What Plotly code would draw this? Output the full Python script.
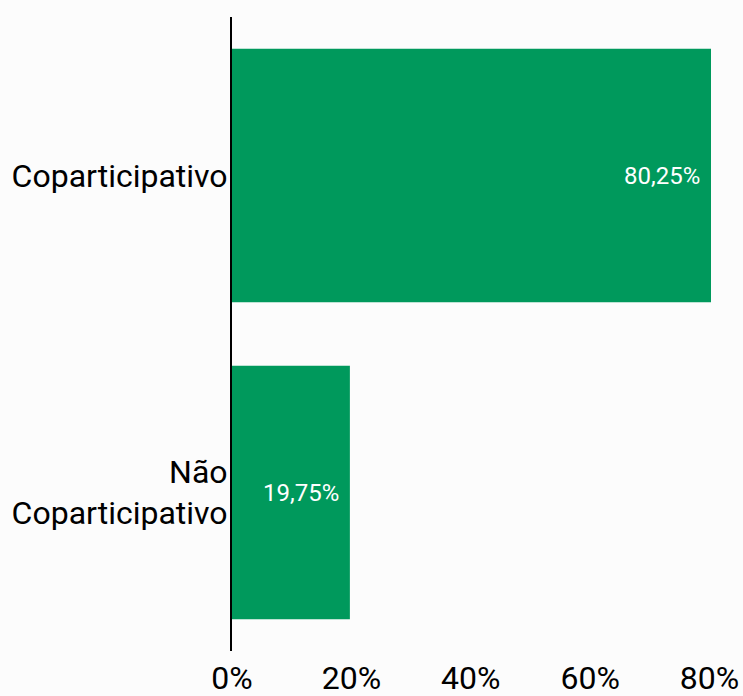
import plotly.graph_objects as go

categories = ["Coparticipativo", "Não<br>Coparticipativo"]
values = [80.25, 19.75]
labels = ["80,25%", "19,75%"]
tick_vals = [0, 20, 40, 60, 80]
tick_text = ["0%", "20%", "40%", "60%", "80%"]

fig = go.Figure()
fig.add_trace(go.Bar(
    y=categories, x=values, orientation="h",
    marker=dict(color="#00995C", line=dict(width=0)),
    width=0.8, hoverinfo="skip",
))
for c, v, t in zip(categories, values, labels):
    fig.add_annotation(x=v, y=c, text=t, showarrow=False, xanchor="right",
                       xshift=-9, font=dict(family="Roboto", size=24, color="white"))

fig.update_layout(
    width=743, height=696,
    margin=dict(l=232, r=32, t=17, b=45),
    paper_bgcolor="#FCFCFC", plot_bgcolor="#FCFCFC",
    font=dict(family="Roboto", size=32, color="black"),
    showlegend=False,
    xaxis=dict(range=[0, 80.25], tickvals=tick_vals, ticktext=tick_text,
               showgrid=False, zeroline=False, showline=False, ticks="",
               ticklabelstandoff=5, automargin=False, tickfont=dict(size=32)),
    yaxis=dict(autorange="reversed", showgrid=False, zeroline=False,
               showline=True, linecolor="black", linewidth=2, ticks="",
               ticklabelstandoff=-4, automargin=False, tickfont=dict(size=32)),
)
fig.write_html("out.html", config={"displayModeBar": False},
               post_script="document.body.style.margin='0';")
